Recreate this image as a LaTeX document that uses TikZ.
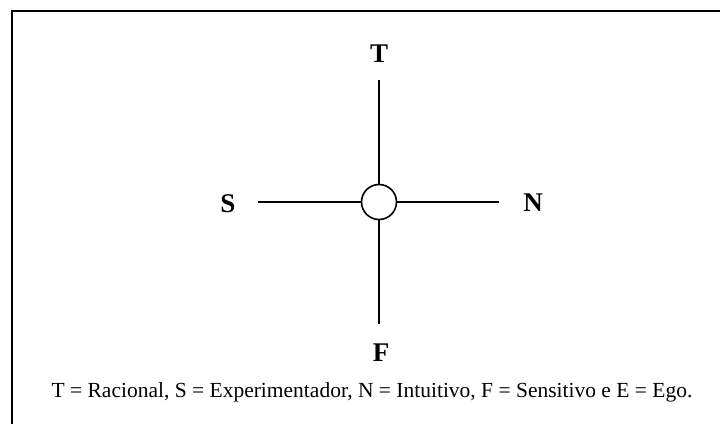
\documentclass[tikz,border=0pt]{standalone}
\usepackage{fontspec}
\setmainfont{Liberation Serif}
\begin{document}
\begin{tikzpicture}[x=1pt,y=1pt,
  axis/.style={line width=1.6pt},
  pole/.style={font=\fontsize{27}{32}\selectfont\bfseries, inner sep=0pt},
  caption/.style={font=\fontsize{21.5}{26}\selectfont, inner sep=0pt}]
\useasboundingbox (0,0) rectangle (720,424);
% frame (top and left edges only)
\coordinate (fTL) at (12,412.5);
\coordinate (fTR) at (720,412.5);
\coordinate (fBL) at (12,0);
\draw[line width=2pt] (fTR) -- (fTL) -- (fBL);
% centre circle
\node[draw, circle, line width=1.6pt, minimum size=35pt, inner sep=0pt] (E) at (379,222) {};
% line ends
\coordinate (top) at (379,344);
\coordinate (bot) at (379,100);
\coordinate (lft) at (258,222);
\coordinate (rgt) at (499,222);
\draw[axis] (top) -- (E.north);
\draw[axis] (E.south) -- (bot);
\draw[axis] (lft) -- (E.west);
\draw[axis] (E.east) -- (rgt);
% labels
\node[pole] (T) at (379,370) {T};
\node[pole] (S) at (228,220) {S};
\node[pole] (N) at (533,221) {N};
\node[pole] (F) at (381,71) {F};
\node[caption, anchor=base] (cap) at (372,27) {T = Racional, S = Experimentador, N = Intuitivo, F = Sensitivo e E = Ego.};
\end{tikzpicture}
\end{document}
